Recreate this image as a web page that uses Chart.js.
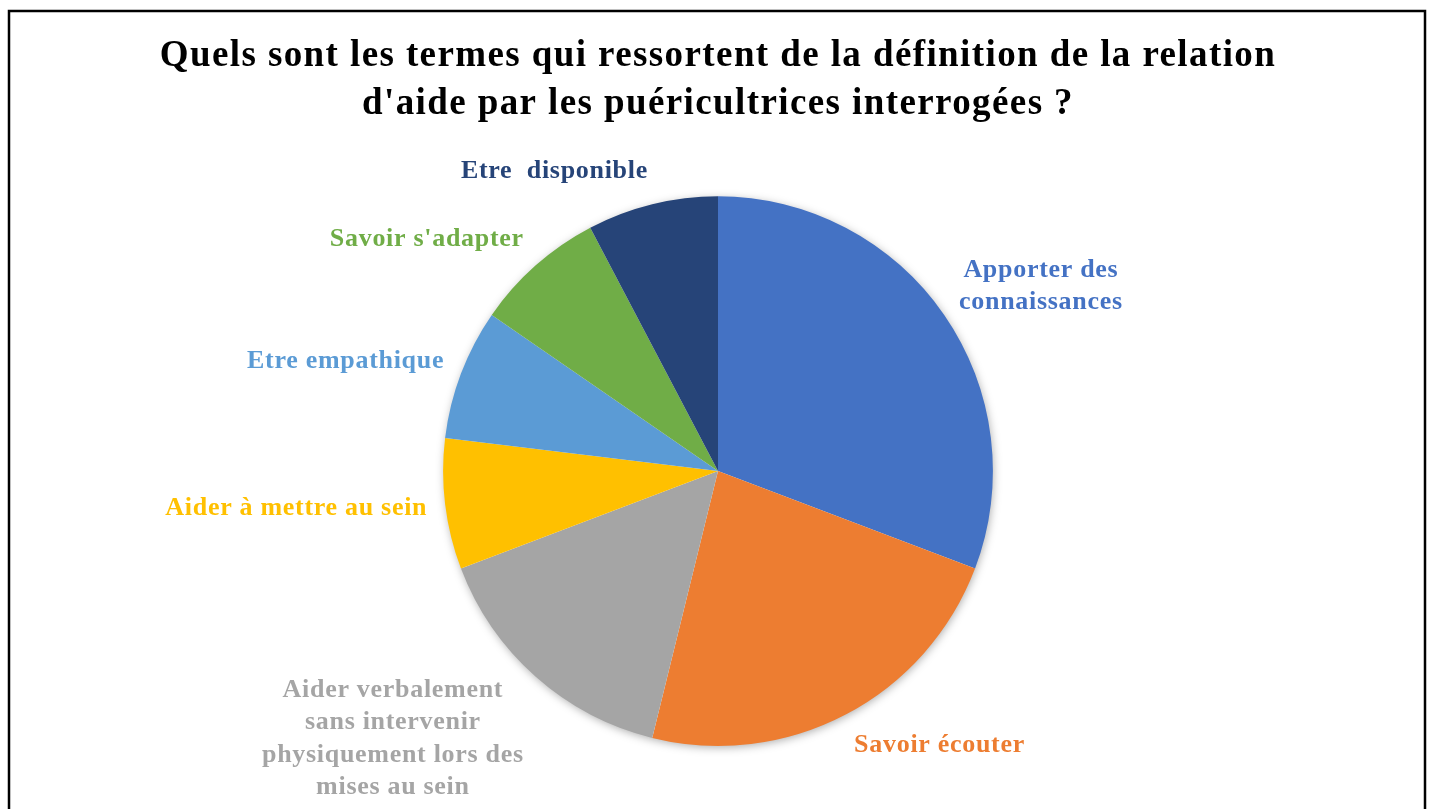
<!DOCTYPE html>
<html>
<head>
<meta charset="utf-8">
<script src="https://cdn.jsdelivr.net/npm/chart.js@4/dist/chart.umd.min.js"></script>
<style>
  html, body { margin: 0; padding: 0; background: #fff; }
  #wrap { position: relative; width: 1434px; height: 809px; }
</style>
</head>
<body>
<div id="wrap"><canvas id="pieChart"></canvas></div>
<script>
const titleLines = [
    "Quels sont les termes qui ressortent de la définition de la relation",
    "d'aide par les puéricultrices interrogées ?"
];
const categories = [
    ["Apporter des", "connaissances"],
    ["Savoir écouter"],
    ["Aider verbalement", "sans intervenir", "physiquement lors des", "mises au sein"],
    ["Aider à mettre au sein"],
    ["Etre empathique"],
    ["Savoir s'adapter"],
    ["Etre  disponible"]
];
const values = [4, 3, 2, 1, 1, 1, 1];
const colors = ["#4472C4", "#ED7D31", "#A5A5A5", "#FFC000", "#5B9BD5", "#70AD47", "#264478"];

const serif = "'Liberation Serif', 'Times New Roman', serif";
const labelFont = "bold 26px " + serif;
const labelLineHeight = 32.5;
const labelGap = 18;

// frame around the whole chart, plus the wider Word-like letter spacing
const framePlugin = {
    id: "frame",
    beforeDraw(chart) {
        const c = chart.ctx;
        c.save();
        c.strokeStyle = "#000";
        c.lineWidth = 2.5;
        c.strokeRect(9, 11, chart.width - 18, chart.height + 20);
        c.restore();
        c.letterSpacing = "1.4px";
    }
};

// soft shadow under the pie
const shadowPlugin = {
    id: "pieShadow",
    beforeDatasetsDraw(chart) {
        const arc = chart.getDatasetMeta(0).data[0];
        if (!arc) return;
        const c = chart.ctx;
        c.save();
        c.shadowColor = "rgba(0,0,0,0.35)";
        c.shadowBlur = 10;
        c.shadowOffsetX = 1;
        c.shadowOffsetY = 2;
        c.fillStyle = "#fff";
        c.beginPath();
        c.arc(arc.x, arc.y, arc.outerRadius - 1, 0, Math.PI * 2);
        c.fill();
        c.restore();
    }
};

// outside-end labels placed off the slice bisector
const outsideLabels = {
    id: "outsideLabels",
    afterDatasetsDraw(chart) {
        const c = chart.ctx;
        const meta = chart.getDatasetMeta(0);
        c.save();
        c.font = labelFont;
        c.letterSpacing = "0.7px";
        c.textAlign = "center";
        c.textBaseline = "middle";
        meta.data.forEach((arc, i) => {
            const p = arc.getProps(["x", "y", "startAngle", "endAngle", "outerRadius"], true);
            const mid = (p.startAngle + p.endAngle) / 2;
            const r = p.outerRadius + labelGap;
            const ax = p.x + Math.cos(mid) * r;
            const ay = p.y + Math.sin(mid) * r;
            const lines = chart.data.labels[i];
            const w = Math.max(...lines.map(l => c.measureText(l).width));
            const h = lines.length * labelLineHeight;
            const left = Math.cos(mid) >= 0 ? ax : ax - w;
            const top = ay + (h / 2) * Math.sin(mid) - h / 2;
            c.fillStyle = colors[i];
            lines.forEach((l, k) => {
                c.fillText(l, left + w / 2, top + labelLineHeight * (k + 0.5));
            });
        });
        c.restore();
    }
};

const ctx = document.getElementById("pieChart").getContext("2d");

new Chart(ctx, {
    type: "pie",
    data: {
        labels: categories,
        datasets: [{
            data: values,
            backgroundColor: colors,
            borderWidth: 0,
            hoverOffset: 0
        }]
    },
    options: {
        responsive: true,
        maintainAspectRatio: false,
        animation: false,
        layout: {
            padding: { top: 0, bottom: 63, left: 2, right: 0 }
        },
        plugins: {
            legend: { display: false },
            tooltip: { enabled: false },
            title: {
                display: true,
                text: titleLines,
                color: "#000",
                font: { family: serif, size: 37, weight: "bold", lineHeight: 1.3 },
                padding: { top: 32, bottom: 68 }
            }
        }
    },
    plugins: [framePlugin, shadowPlugin, outsideLabels]
});
</script>
</body>
</html>
